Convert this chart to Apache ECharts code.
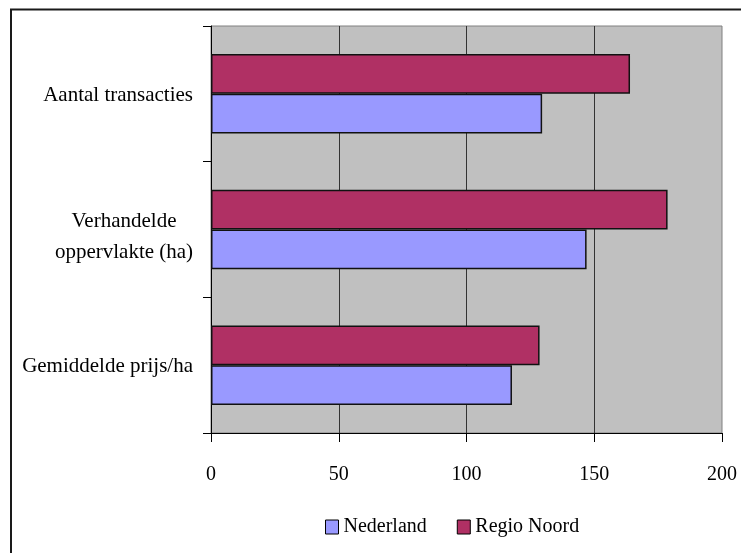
<!DOCTYPE html>
<html>
<head>
<meta charset="utf-8">
<script src="https://cdn.jsdelivr.net/npm/echarts@6/dist/echarts.min.js"></script>
<style>html,body{margin:0;padding:0;background:#fff;}#c{width:741px;height:553px;}</style>
</head>
<body>
<div id="c"></div>
<script>
const categories = ['Aantal transacties', 'Verhandelde\noppervlakte (ha)', 'Gemiddelde prijs/ha'];
const nederland = [129.6, 147, 117.8];
const regioNoord = [164, 178.7, 128.6];
const xTicks = [0, 50, 100, 150, 200];

const chart = echarts.init(document.getElementById('c'), null, {renderer: 'canvas'});
const serif = '"Liberation Serif", "Times New Roman", serif';
chart.setOption({
  animation: false,
  backgroundColor: '#ffffff',
  graphic: [{
    type: 'polyline',
    shape: {points: [[11, 553], [11, 9.5], [741, 9.5]]},
    style: {stroke: '#1a1a1a', lineWidth: 2, fill: null},
    silent: true
  }],
  grid: {left: 211, right: 19, top: 26, bottom: 120, show: true,
    backgroundColor: '#C0C0C0', borderColor: '#808080', borderWidth: 1},
  legend: {
    data: ['Nederland', 'Regio Noord'],
    left: 320, top: 512, itemWidth: 13, itemHeight: 14, itemGap: 30,
    icon: 'rect',
    textStyle: {fontFamily: serif, fontSize: 20, color: '#000'},
    itemStyle: {borderColor: '#000', borderWidth: 1}
  },
  xAxis: {
    type: 'value', min: xTicks[0], max: xTicks[xTicks.length - 1], interval: 50,
    axisLine: {show: true, lineStyle: {color: '#000', width: 1}},
    axisTick: {show: true, length: 9, lineStyle: {color: '#000'}},
    axisLabel: {fontFamily: serif, fontSize: 20, color: '#000', margin: 32},
    splitLine: {show: true, showMinLine: false, showMaxLine: false, lineStyle: {color: '#333', width: 1}}
  },
  yAxis: {
    type: 'category', data: categories, inverse: true,
    axisLine: {show: true, lineStyle: {color: '#000', width: 1}},
    axisTick: {show: true, length: 8, lineStyle: {color: '#000'}},
    axisLabel: {
      fontFamily: serif, fontSize: 21, color: '#000', margin: 18, align: 'right',
      lineHeight: 31, padding: [3, 0, 0, 0],
      formatter: function (v) {
        const parts = v.split('\n');
        if (parts.length === 1) return v;
        return '{s| }\n' + parts.map(function (s) { return '{c|' + s + '}'; }).join('\n');
      },
      rich: {
        s: {fontSize: 8, lineHeight: 12, width: 138},
        c: {align: 'center', width: 138, fontFamily: serif, fontSize: 21, color: '#000', lineHeight: 31}
      }
    },
    splitLine: {show: false}
  },
  series: [
    {name: 'Regio Noord', type: 'bar', data: regioNoord, barGap: '0%', barCategoryGap: '41.4%',
      itemStyle: {color: '#B03064', borderColor: '#111', borderWidth: 1.5}},
    {name: 'Nederland', type: 'bar', data: nederland, barGap: '0%', barCategoryGap: '41.4%',
      itemStyle: {color: '#9999FF', borderColor: '#111', borderWidth: 1.5}}
  ]
});
</script>
</body>
</html>
